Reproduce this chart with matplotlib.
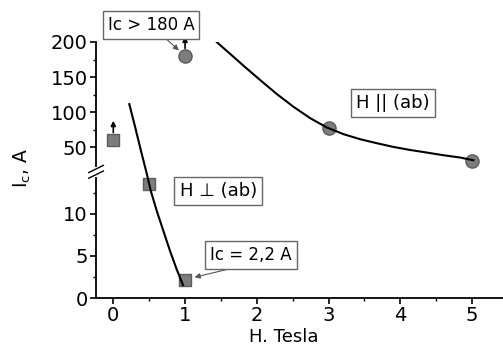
import numpy as np
import matplotlib
matplotlib.use("Agg")
import matplotlib.pyplot as plt
from matplotlib.transforms import offset_copy

# measured points
perp_x = [0, 0.5, 1]
perp_y = [60, 13.6, 2.2]
par_x = [1, 3, 5]
par_y = [180, 78, 31]

# fitted curves
perp_fit_x = [0.223, 0.306, 0.386, 0.460, 0.525, 0.609, 0.701, 0.794, 0.887, 0.971]
perp_fit_y = [111.4, 78.1, 44.7, 15.0, 12.65, 10.27, 7.89, 5.51, 3.33, 1.55]
par_fit_x = [1.444, 1.630, 1.815, 2.047, 2.280, 2.511, 2.744, 2.976, 3.208,
             3.440, 3.673, 3.904, 4.136, 4.369, 4.600, 4.833, 5.018]
par_fit_y = [199.6, 182.9, 166.1, 145.7, 125.7, 107.6, 91.4, 78.1, 68.6,
             61.4, 55.7, 50.4, 46.1, 42.4, 38.6, 35.3, 31.4]

# lower bound points (arrows up)
bound_x = [0, 1]
bound_y = [60, 180]

BRK = 15.0
K = 12.0

def fwd(y):
    y = np.asarray(y, dtype=float)
    return np.where(y <= BRK, y, BRK + (y - BRK) / K)

def inv(t):
    t = np.asarray(t, dtype=float)
    return np.where(t <= BRK, t, BRK + (t - BRK) * K)

plt.rcParams['font.family'] = 'DejaVu Sans'

fig = plt.figure(figsize=(5.03, 3.47), dpi=100)
ax = fig.add_axes([0.191, 0.141, 0.809, 0.738])
ax.set_yscale('function', functions=(fwd, inv))
ax.set_ylim(0, 200)
ax.set_xlim(-0.24, 5.43)

ax.plot(perp_x, perp_y, 's', ms=9, mfc='#7d7d7d', mec='#5c5c5c', zorder=2)
ax.plot(par_x, par_y, 'o', ms=9.5, mfc='#7d7d7d', mec='#5c5c5c', zorder=2)
ax.plot(perp_fit_x, perp_fit_y, '-', color='black', lw=1.5, zorder=3)
ax.plot(par_fit_x, par_fit_y, '-', color='black', lw=1.5, zorder=3)

for bx, by in zip(bound_x, bound_y):
    tip = offset_copy(ax.transData, fig=fig, y=14, units='points')
    base = offset_copy(ax.transData, fig=fig, y=5.5, units='points')
    ax.annotate('', xy=(bx, by), xycoords=tip, xytext=(bx, by), textcoords=base,
                arrowprops=dict(arrowstyle='-|>', color='black', lw=1.2,
                                mutation_scale=7, shrinkA=0, shrinkB=0),
                annotation_clip=False)

ax.set_yticks([0, 5, 10, 50, 100, 150, 200])
ax.set_yticks([2.5, 7.5, 12.5, 75, 125, 175], minor=True)
ax.set_xticks([0, 1, 2, 3, 4, 5])
ax.set_xticks(np.arange(0.5, 5.5, 1.0), minor=True)

for s in ['top', 'right']:
    ax.spines[s].set_visible(False)
for s in ['left', 'bottom']:
    ax.spines[s].set_linewidth(1.3)
ax.tick_params(which='major', direction='out', length=4, width=1.2, labelsize=14, pad=2)
ax.tick_params(which='minor', direction='out', length=2.5, width=1.0)

ax.set_xlabel('H. Tesla', fontsize=13)
ax.xaxis.set_label_coords(0.46, -0.118)
ax.set_ylabel(r'I$_\mathregular{c}$, A', fontsize=13.5)
ax.yaxis.set_label_coords(-0.155, 0.51)

# axis break
yb = float(fwd(BRK)) / float(fwd(200))
ax.plot([0, 0], [yb - 0.012, yb + 0.012], color='white', lw=3, transform=ax.transAxes,
        clip_on=False, zorder=5)
for d in (-0.011, 0.011):
    ax.plot([-0.018, 0.018], [yb + d - 0.014, yb + d + 0.014], color='black', lw=1.0,
            transform=ax.transAxes, clip_on=False, zorder=6)

box = dict(boxstyle='square,pad=0.3', fc='white', ec='#666666', lw=1.0)
arw = dict(arrowstyle='-|>', color='#555555', lw=0.8, mutation_scale=8, shrinkA=0)

ax.annotate('Ic > 180 A', xy=(par_x[0], par_y[0]), xytext=(0.135, 1.066),
            textcoords='axes fraction', ha='center', va='center', fontsize=12,
            bbox=box, arrowprops=dict(arw, shrinkB=6), annotation_clip=False)
ax.annotate('Ic = 2,2 A', xy=(perp_x[2], perp_y[2]), xytext=(0.381, 0.168),
            textcoords='axes fraction', ha='center', va='center', fontsize=12,
            bbox=box, arrowprops=dict(arw, shrinkB=7, relpos=(0.48, 0)))
ax.text(0.73, 0.762, 'H || (ab)', transform=ax.transAxes, ha='center', va='center',
        fontsize=13, bbox=box)
ax.text(0.30, 0.418, 'H \u22a5 (ab)', transform=ax.transAxes, ha='center', va='center',
        fontsize=13, bbox=box)

fig.savefig('out.png', dpi=100)
